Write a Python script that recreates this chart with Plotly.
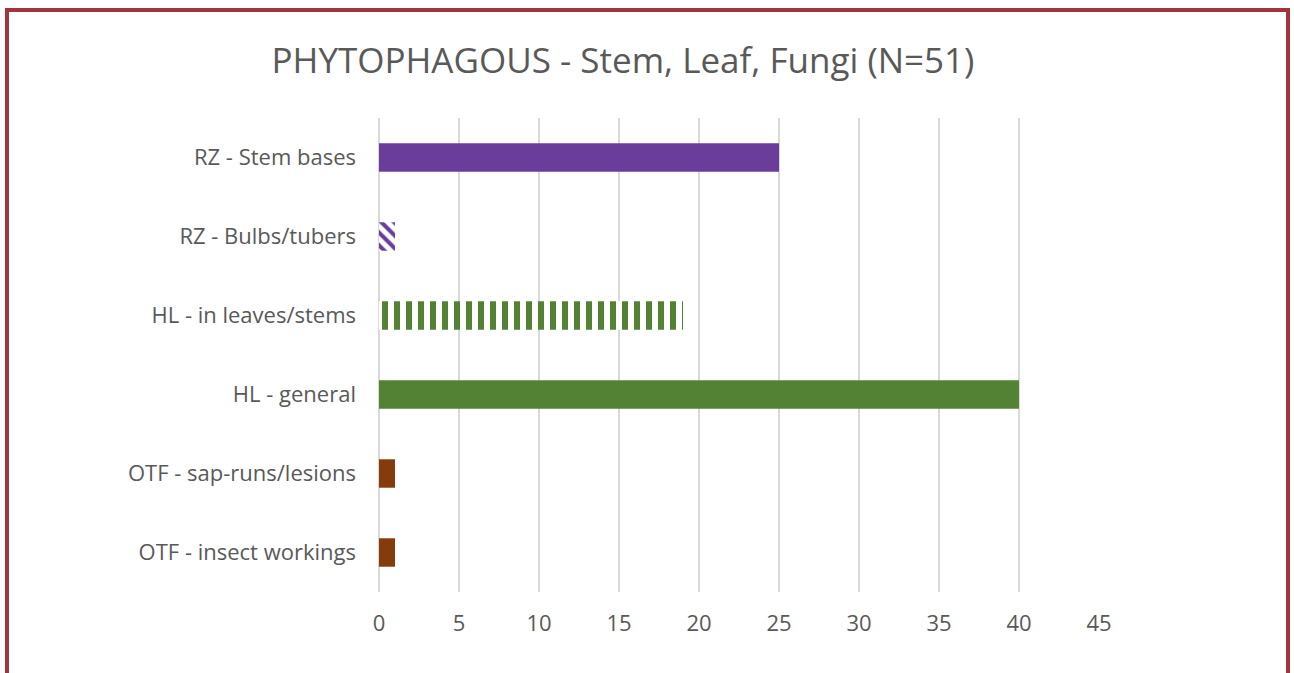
import plotly.graph_objects as go

categories = ["RZ - Stem bases", "RZ - Bulbs/tubers", "HL - in leaves/stems",
              "HL - general", "OTF - sap-runs/lesions", "OTF - insect workings"]
values = [25, 1, 19, 40, 1, 1]
bar_colors = ["#6A3D9A", "#6A3D9A", "#548235", "#548235", "#843C0C", "#843C0C"]
patterns = ["", "\\", "|", "", "", ""]
x_ticks = [0, 5, 10, 15, 20, 25, 30, 35, 40, 45]
title_text = "PHYTOPHAGOUS - Stem, Leaf, Fungi (N=51)"

W, H = 1294, 673
L, R, T, B = 379, 1099, 118, 592

fig = go.Figure()
for cat, val, col, pat in zip(categories, values, bar_colors, patterns):
    if pat:
        marker = dict(color="white", line=dict(width=0),
                      pattern=dict(shape=pat, fgcolor=col, bgcolor="white",
                                   size=12 if pat == "|" else 9, solidity=0.5 if pat == "|" else 0.45,
                                   fillmode="replace"))
    else:
        marker = dict(color=col, line=dict(width=0))
    fig.add_trace(go.Bar(x=[val], y=[cat], orientation="h", width=0.36,
                         marker=marker, name=cat, hoverinfo="x+y"))

pw, ph = R - L, B - T
def px_x(p):
    return (p - L) / pw
def px_y(p):
    return (B - p) / ph

border = "#A3333D"
fig.add_shape(type="rect", xref="paper", yref="paper",
              x0=px_x(7), x1=px_x(1288), y0=px_y(700), y1=px_y(10),
              line=dict(color=border, width=4), fillcolor="rgba(0,0,0,0)", layer="above")

fig.update_layout(
    width=W, height=H,
    margin=dict(l=L, r=W - R, t=T, b=H - B, pad=0),
    paper_bgcolor="white", plot_bgcolor="white",
    showlegend=False, barmode="overlay",
    title=dict(text=title_text, x=623 / W, xanchor="center", xref="container",
               y=1 - 61 / H, yanchor="middle", yref="container",
               font=dict(family="Open Sans, Liberation Sans, sans-serif", size=35, color="#595959")),
    font=dict(family="Open Sans, Liberation Sans, sans-serif", color="#595959"),
    xaxis=dict(range=[0, 45], tickvals=x_ticks, ticktext=[str(t) for t in x_ticks],
               showgrid=True, gridcolor="#D9D9D9", gridwidth=2,
               zeroline=True, zerolinecolor="#D9D9D9", zerolinewidth=2,
               showline=False, ticks="", ticklabelstandoff=16,
               tickfont=dict(size=22, color="#595959")),
    yaxis=dict(categoryorder="array", categoryarray=categories, autorange="reversed",
               showgrid=False, showline=False, ticks="", ticklabelstandoff=22,
               tickfont=dict(size=22, color="#595959")),
)

fig.write_html("out.html", config={"displayModeBar": False},
               post_script="document.body.style.margin='0';document.body.style.overflow='hidden';")
